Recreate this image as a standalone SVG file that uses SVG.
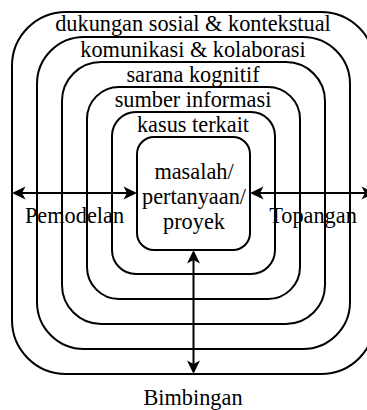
<svg xmlns="http://www.w3.org/2000/svg" width="367" height="410" viewBox="0 0 367 410" font-family="Liberation Serif, Times New Roman, serif">
<style>
.box{fill:none;stroke:#000;stroke-width:2}
.t{font-size:22.3px;fill:#000;text-anchor:middle}
.arr{fill:none;stroke:#000;stroke-width:2}
</style>
<defs>
<marker id="ah" markerUnits="userSpaceOnUse" viewBox="-5 -8 16 16" refX="0" refY="0" markerWidth="16" markerHeight="16" orient="auto-start-reverse">
<path d="M10,0 L-3.5,-6.5 L0,0 L-3.5,6.5 Z" fill="#000"/>
</marker>
</defs>
<rect width="367" height="410" fill="#fff"/>
<g id="n-dukungan">
<rect class="box" x="12" y="12" width="363" height="362" rx="54"/>
<text class="t" x="193" y="31">dukungan sosial &amp; kontekstual</text>
</g>
<g id="n-komunikasi">
<rect class="box" x="37" y="37" width="313" height="312" rx="47"/>
<text class="t" x="193" y="57">komunikasi &amp; kolaborasi</text>
</g>
<g id="n-sarana">
<rect class="box" x="62" y="62" width="263" height="262" rx="39"/>
<text class="t" x="193" y="82">sarana kognitif</text>
</g>
<g id="n-sumber">
<rect class="box" x="87" y="87" width="213" height="212" rx="32"/>
<text class="t" x="193" y="106.5">sumber informasi</text>
</g>
<g id="n-kasus">
<rect class="box" x="112" y="112" width="163" height="162" rx="24"/>
<text class="t" x="193" y="131.5">kasus terkait</text>
</g>
<g id="n-masalah">
<rect class="box" x="137" y="137" width="113" height="113" rx="17"/>
<text class="t" x="194" y="179">masalah/</text>
<text class="t" x="194" y="204">pertanyaan/</text>
<text class="t" x="194" y="228.5">proyek</text>
</g>
<g id="connectors">
<line class="arr" x1="22" y1="193" x2="127" y2="193" marker-start="url(#ah)" marker-end="url(#ah)"/>
<line class="arr" x1="260" y1="193" x2="365" y2="193" marker-start="url(#ah)" marker-end="url(#ah)"/>
<line class="arr" x1="193.5" y1="260" x2="193.5" y2="364" marker-start="url(#ah)" marker-end="url(#ah)"/>
<text class="t" x="74.5" y="223">Pemodelan</text>
<text class="t" x="313" y="223">Topangan</text>
<text class="t" x="193" y="405">Bimbingan</text>
</g>
</svg>
